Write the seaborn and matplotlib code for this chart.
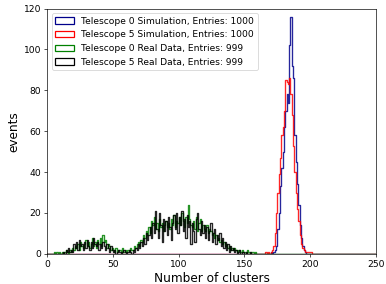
import numpy as np
import pandas as pd
import seaborn as sns
import matplotlib.pyplot as plt
from matplotlib.patches import Patch

# one bin per cluster count, 0..250
n_bins = 250

# counts per bin, each list starts at the given cluster number
sim0_start = 170
sim0_counts = [1, 0, 1, 2, 4, 12, 20, 33, 42, 50, 62, 70, 78, 74, 102, 116, 92, 86,
               58, 45, 34, 24, 14, 8, 4, 2, 1]
sim5_start = 166
sim5_counts = [1, 0, 1, 0, 1, 2, 4, 10, 20, 30, 39, 47, 58, 62, 70, 85, 84, 83, 86,
               78, 68, 53, 40, 30, 22, 16, 9, 5, 3, 2, 1, 1, 1, 1, 1]
real0_start = 5
real0_counts = [1, 0, 1, 0, 1,
                0, 1, 0, 1, 2, 1, 0, 2, 1, 3,
                2, 4, 3, 5, 2, 6, 4, 3, 5, 7,
                4, 6, 3, 5, 8, 4, 6, 3, 7, 5,
                8, 4, 9, 6, 7, 3, 5, 4, 2, 3,
                2, 1, 3, 1, 2, 2, 1, 3, 1, 2,
                1, 2, 1, 3, 2, 2, 4, 3, 5, 6,
                4, 7, 6, 9, 8, 11, 9, 13, 10, 16,
                14, 18, 12, 15, 11, 17, 13, 15, 11, 14,
                16, 13, 15, 12, 17, 14, 19, 13, 16, 15,
                18, 14, 20, 16, 13, 18, 15, 24, 17, 14,
                13, 16, 12, 18, 11, 15, 17, 11, 14, 12,
                11, 14, 10, 12, 11, 9, 10, 8, 9, 7,
                8, 6, 7, 5, 6, 4, 5, 3, 4, 2,
                3, 2, 3, 2, 1, 2, 2, 1, 2, 1,
                1, 0, 2, 1, 0, 1, 1, 0, 1, 0, 0]
real5_start = 12
real5_counts = [1, 0, 2, 1, 3, 1, 2, 1,
                5, 3, 6, 2, 7, 4, 5, 2, 6, 3,
                7, 4, 2, 6, 3, 8, 5, 4, 6, 2,
                5, 3, 6, 4, 2, 5, 3, 1, 4, 2,
                1, 2, 0, 1, 2, 1, 0, 1, 2, 1,
                0, 1, 2, 1, 0, 2, 1, 3, 2, 5,
                3, 6, 4, 8, 5, 10, 7, 9, 13, 8,
                15, 10, 21, 12, 8, 20, 14, 6, 17, 11,
                16, 9, 18, 13, 7, 15, 19, 12, 20, 10,
                18, 14, 21, 11, 17, 8, 19, 13, 16, 5,
                15, 11, 6, 17, 20, 12, 9, 16, 10, 14,
                8, 13, 7, 11, 15, 6, 10, 12, 5, 9,
                7, 10, 4, 8, 3, 6, 2, 5, 1, 4,
                2, 3, 1, 2, 0, 1, 2, 0, 1, 1,
                0, 1, 0, 0, 1, 0, 0, 0, 0, 0, 0]

labels = ['Telescope 0 Simulation, Entries: 1000',
          'Telescope 5 Simulation, Entries: 1000',
          'Telescope 0 Real Data, Entries: 999',
          'Telescope 5 Real Data, Entries: 999']
colors = ['darkblue', 'red', 'green', 'black']
series = [(sim0_start, sim0_counts), (sim5_start, sim5_counts),
          (real0_start, real0_counts), (real5_start, real5_counts)]


def hist_table(start, counts):
    w = np.zeros(n_bins)
    w[start:start + len(counts)] = counts
    return pd.DataFrame({'clusters': np.arange(n_bins) + 0.5, 'n': w})


fig, ax = plt.subplots(figsize=(386 / 60, 284 / 60), dpi=60)
for (start, counts), col in zip(series, colors):
    sns.histplot(data=hist_table(start, counts), x='clusters', weights='n',
                 binwidth=1, binrange=(0, n_bins), element='step', fill=False,
                 color=col, alpha=0.85, linewidth=1.6, ax=ax)

handles = [Patch(facecolor='none', edgecolor=c, linewidth=1.5) for c in colors]
ax.legend(handles, labels, loc='upper left', fontsize=11)
ax.set_xlim(0, 250)
ax.set_ylim(0, 120)
ax.set_xlabel('Number of clusters', fontsize=14.5)
ax.set_ylabel('events', fontsize=14.5)
ax.tick_params(labelsize=11)
fig.subplots_adjust(left=0.122, right=0.974, top=0.97, bottom=0.106)
plt.savefig('out.png', dpi=60)
